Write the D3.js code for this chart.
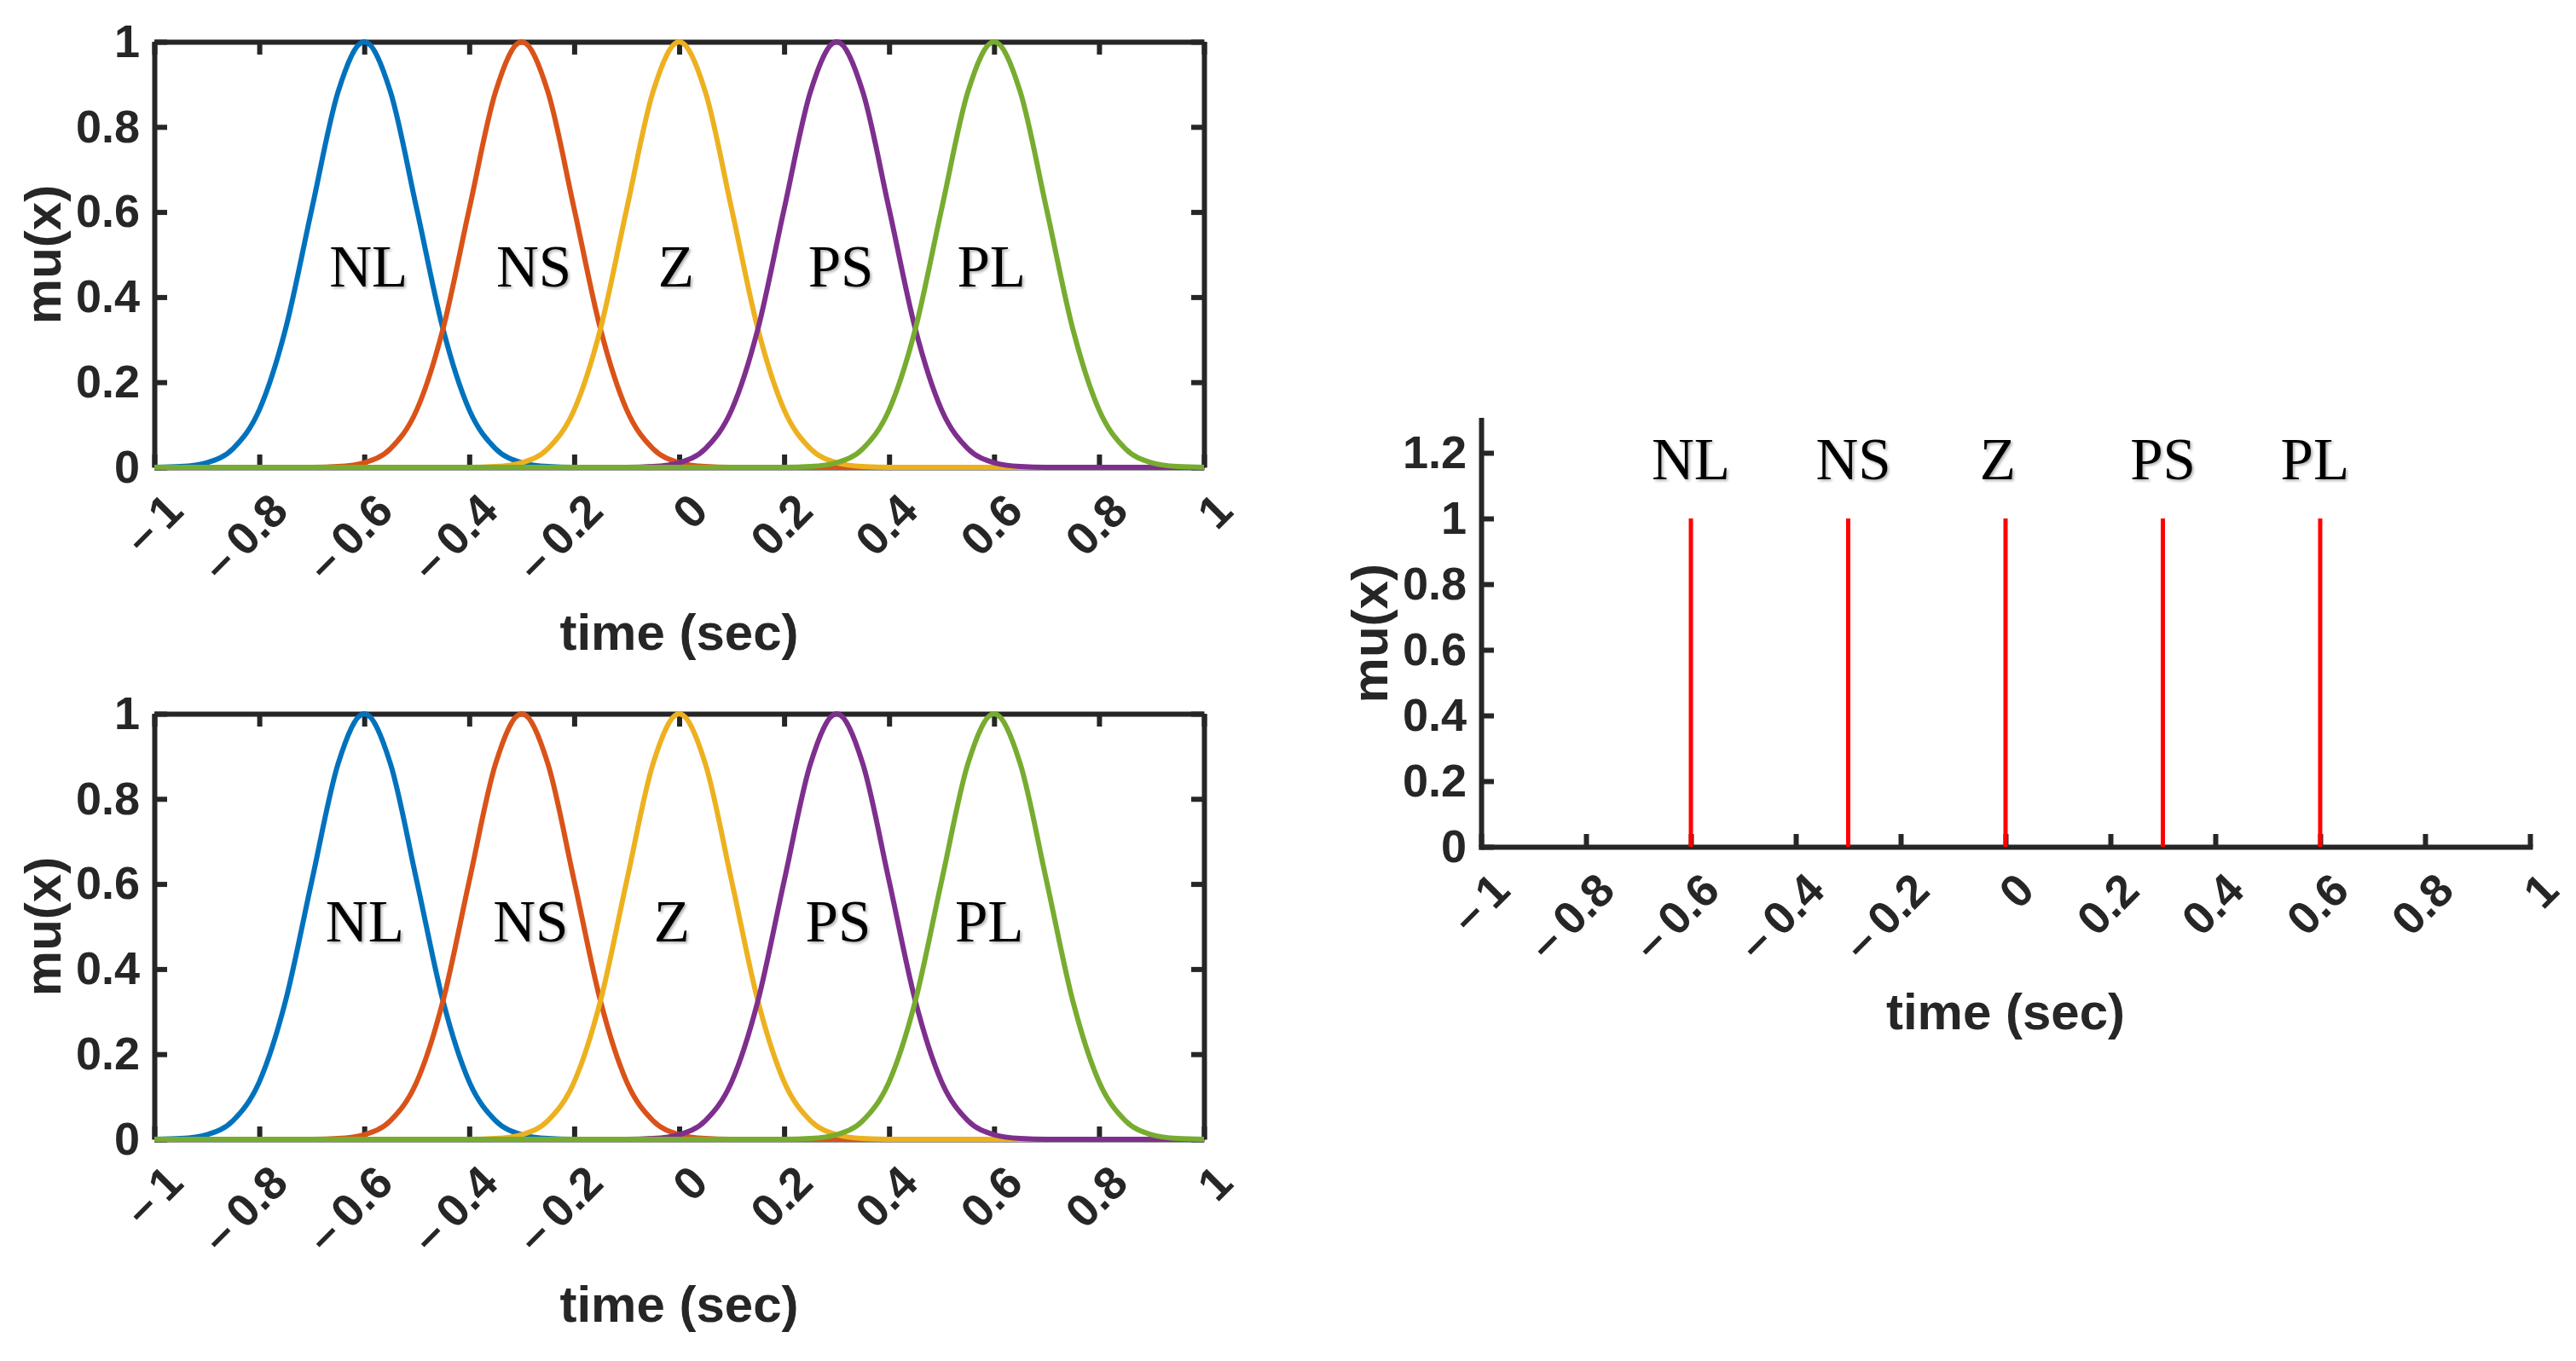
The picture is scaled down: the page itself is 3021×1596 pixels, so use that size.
<!DOCTYPE html>
<html>
<head>
<meta charset="utf-8">
<script src="https://cdn.jsdelivr.net/npm/d3@7"></script>
<style>
body { margin: 0; background: #fff; }
.axis text { font-family: "Liberation Sans", Arial, sans-serif; font-weight: bold; font-size: 54px; fill: #262626; }
.axis .domain, .axis .tick line { stroke: #262626; stroke-width: 6; }
.axis-title { font-family: "Liberation Sans", Arial, sans-serif; font-weight: bold; font-size: 60px; fill: #262626; }
.set-label { font-family: "Liberation Serif", "Times New Roman", serif; font-size: 69px; fill: #000; }
</style>
</head>
<body>
<svg id="chart" width="3021" height="1596"></svg>
<script>
// fuzzy sets
const setNames = ["NL", "NS", "Z", "PS", "PL"];
const centers = [-0.6, -0.3, 0, 0.3, 0.6];
const setColors = ["#0072BD", "#D95319", "#EDB120", "#7E2F8E", "#77AC30"];

// one bell: offset from its peak, and mu at that offset
const bellOffsets = [-0.4, -0.35, -0.3, -0.25, -0.2, -0.15, -0.1, -0.05, 0, 0.05, 0.1, 0.15, 0.2, 0.25, 0.3, 0.35, 0.4];
const bellValues = [0, 0.002, 0.011, 0.044, 0.135, 0.325, 0.607, 0.882, 1, 0.882, 0.607, 0.325, 0.135, 0.044, 0.011, 0.002, 0];

// singleton sets on the right
const spikeValues = [1, 1, 1, 1, 1];

// ticks
const xTicks = [-1, -0.8, -0.6, -0.4, -0.2, 0, 0.2, 0.4, 0.6, 0.8, 1];
const yTicksBell = [0, 0.2, 0.4, 0.6, 0.8, 1];
const yTicksSpike = [0, 0.2, 0.4, 0.6, 0.8, 1, 1.2];

// where the set names sit (data units)
const labelXTop = [-0.592, -0.277, -0.006, 0.308, 0.595];
const labelXBottom = [-0.599, -0.283, -0.014, 0.303, 0.591];
const labelXSpike = [-0.6, -0.29, -0.015, 0.3, 0.59];

const panels = [
  {kind: "bell", left: 181, right: 1412, top: 49, bottom: 548, yMax: 1, yTicks: yTicksBell, labelX: labelXTop, labelY: 0.425},
  {kind: "bell", left: 181, right: 1412, top: 837, bottom: 1336, yMax: 1, yTicks: yTicksBell, labelX: labelXBottom, labelY: 0.465},
  {kind: "spike", left: 1737, right: 2967, top: 492.5, bottom: 993, yMax: 1.3, yTicks: yTicksSpike, labelX: labelXSpike, labelY: 1.12}
];

const svg = d3.select("#chart");

svg.append("defs").append("filter").attr("id", "soft")
  .append("feDropShadow")
  .attr("dx", 2).attr("dy", 2).attr("stdDeviation", 1.5)
  .attr("flood-color", "#000").attr("flood-opacity", 0.3);

const fmtX = d => d < 0 ? "\u2013\u2009" + (-d) : String(d);
const fmtY = d => String(d);

function drawPanel(p) {
  const x = d3.scaleLinear().domain([-1, 1]).range([p.left, p.right]);
  const y = d3.scaleLinear().domain([0, p.yMax]).range([p.bottom, p.top]);
  const g = svg.append("g");

  // bottom axis, ticks pointing in, labels turned 45deg
  g.append("g").attr("class", "axis")
    .attr("transform", `translate(0,${p.bottom})`)
    .call(d3.axisBottom(x).tickValues(xTicks).tickFormat(fmtX).tickSizeInner(-15).tickSizeOuter(0))
    .call(a => a.selectAll("text")
      .attr("x", 0).attr("y", 0).attr("dy", null)
      .attr("text-anchor", "end")
      .attr("transform", "translate(36,54) rotate(-45)"));

  // left axis
  g.append("g").attr("class", "axis")
    .attr("transform", `translate(${p.left},0)`)
    .call(d3.axisLeft(y).tickValues(p.yTicks).tickFormat(fmtY).tickSizeInner(-15).tickSizeOuter(0).tickPadding(17));

  if (p.kind === "bell") {
    // box on top and right, ticks only
    g.append("g").attr("class", "axis")
      .attr("transform", `translate(0,${p.top})`)
      .call(d3.axisTop(x).tickValues(xTicks).tickFormat("").tickSizeInner(-15).tickSizeOuter(0));
    g.append("g").attr("class", "axis")
      .attr("transform", `translate(${p.right},0)`)
      .call(d3.axisRight(y).tickValues(p.yTicks).tickFormat("").tickSizeInner(-15).tickSizeOuter(0));

    const line = d3.line()
      .x(d => x(d[0]))
      .y(d => y(d[1]))
      .curve(d3.curveMonotoneX);

    centers.forEach((c, i) => {
      const pts = [[-1, 0]];
      bellOffsets.forEach((o, k) => {
        const t = c + o;
        if (t > -0.999 && t < 0.999) pts.push([t, bellValues[k]]);
      });
      pts.push([1, 0]);
      g.append("path")
        .attr("d", line(pts))
        .attr("fill", "none")
        .attr("stroke", setColors[i])
        .attr("stroke-width", 6);
    });
  } else {
    g.selectAll(".axis .domain").attr("stroke-linecap", "square");
    g.selectAll(".spike")
      .data(centers)
      .join("line")
      .attr("class", "spike")
      .attr("x1", d => x(d)).attr("x2", d => x(d))
      .attr("y1", y(0))
      .attr("y2", (d, i) => y(spikeValues[i]))
      .attr("stroke", "#ff0000")
      .attr("stroke-width", 5);
  }

  // set names
  g.selectAll(".set-label")
    .data(setNames)
    .join("text")
    .attr("class", "set-label")
    .attr("x", (d, i) => x(p.labelX[i]))
    .attr("y", y(p.labelY))
    .attr("text-anchor", "middle")
    .attr("filter", "url(#soft)")
    .text(d => d);

  // axis titles
  g.append("text").attr("class", "axis-title")
    .attr("x", (p.left + p.right) / 2)
    .attr("y", p.bottom + 214)
    .attr("text-anchor", "middle")
    .text("time (sec)");

  g.append("text").attr("class", "axis-title")
    .attr("transform", `translate(${p.left - 110},${(p.top + p.bottom) / 2}) rotate(-90)`)
    .attr("text-anchor", "middle")
    .text("mu(x)");
}

panels.forEach(drawPanel);
</script>
</body>
</html>
